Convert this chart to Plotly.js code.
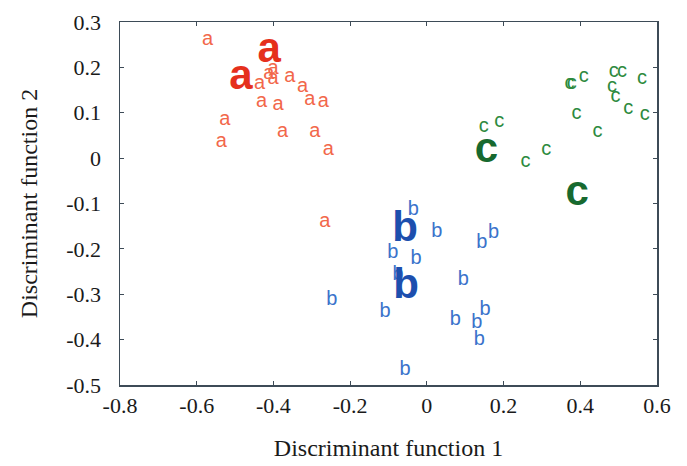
<!DOCTYPE html>
<html>
<head>
<meta charset="utf-8">
<script src="https://cdn.plot.ly/plotly-3.0.1.min.js"></script>
<style>html,body{margin:0;padding:0;background:#fff;}#chart{width:687px;height:466px;}</style>
</head>
<body>
<div id="chart"></div>
<script>
// Group a (small labels)
const aX = [-0.572, -0.436, -0.401, -0.401, -0.412, -0.357, -0.324, -0.305, -0.270, -0.431, -0.388, -0.527, -0.536, -0.376, -0.292, -0.257, -0.266];
const aY = [0.260, 0.164, 0.197, 0.175, 0.186, 0.179, 0.157, 0.128, 0.124, 0.124, 0.117, 0.084, 0.036, 0.058, 0.058, 0.017, -0.141];
// Group a (large labels)
const aBigX = [-0.411, -0.485];
const aBigY = [0.234, 0.175];
// Group b (small labels)
const bX = [-0.035, 0.026, 0.143, 0.174, -0.089, -0.028, -0.075, 0.095, -0.248, -0.109, 0.152, 0.074, 0.130, 0.137, -0.057];
const bY = [-0.115, -0.162, -0.188, -0.166, -0.210, -0.222, -0.258, -0.269, -0.313, -0.339, -0.335, -0.357, -0.364, -0.401, -0.467];
// Group b (large labels)
const bBigX = [-0.057, -0.054];
const bBigY = [-0.159, -0.285];
// Group c (small labels)
const cX = [0.148, 0.189, 0.257, 0.311, 0.372, 0.378, 0.409, 0.390, 0.445, 0.487, 0.509, 0.561, 0.483, 0.492, 0.525, 0.568];
const cY = [0.069, 0.080, -0.008, 0.017, 0.164, 0.164, 0.179, 0.098, 0.058, 0.190, 0.189, 0.175, 0.157, 0.135, 0.109, 0.095];
// Group c (large labels)
const cBigX = [0.155, 0.392];
const cBigY = [0.014, -0.080];

const xTickVals = [-0.8, -0.6, -0.4, -0.2, 0, 0.2, 0.4, 0.6];
const xTickText = ['-0.8', '-0.6', '-0.4', '-0.2', '0', '0.2', '0.4', '0.6'];
const yTickVals = [-0.5, -0.4, -0.3, -0.2, -0.1, 0, 0.1, 0.2, 0.3];
const yTickText = ['-0.5', '-0.4', '-0.3', '-0.2', '-0.1', '0', '0.1', '0.2', '0.3'];

const letterFont = 'Liberation Sans, Arial, sans-serif';
function textTrace(xs, ys, letter, size, color, weight) {
  return {
    x: xs, y: ys, mode: 'text', type: 'scatter',
    text: xs.map(() => letter),
    textposition: 'middle center',
    textfont: {family: letterFont, size: size, color: color, weight: weight},
    hoverinfo: 'skip', showlegend: false, cliponaxis: false
  };
}

const traces = [
  textTrace(aX, aY, 'a', 20, '#f2674a', 'normal'),
  textTrace(aBigX, aBigY, 'a', 42, '#e5301c', 'bold'),
  textTrace(bX, bY, 'b', 20, '#3a73cb', 'normal'),
  textTrace(bBigX, bBigY, 'b', 42, '#1d4fae', 'bold'),
  textTrace(cX, cY, 'c', 20, '#2d8a3e', 'normal'),
  textTrace(cBigX, cBigY, 'c', 42, '#17692f', 'bold')
];

const serif = 'Liberation Serif, Times New Roman, serif';
const axisFont = {family: serif, size: 22, color: '#1a1a1a'};
const common = {
  showline: true, linecolor: '#3d4b57', linewidth: 1.5, mirror: 'ticks',
  ticks: 'inside', ticklen: 4, tickwidth: 1, tickcolor: '#3d4b57',
  showgrid: false, zeroline: false, tickfont: axisFont, tickmode: 'array'
};

const layout = {
  width: 687, height: 466,
  margin: {l: 120, r: 30, t: 22, b: 81},
  paper_bgcolor: '#ffffff', plot_bgcolor: '#ffffff',
  font: {family: serif, color: '#1a1a1a'},
  xaxis: Object.assign({}, common, {
    range: [-0.8, 0.6], tickvals: xTickVals, ticktext: xTickText,
    title: {text: 'Discriminant function 1', font: {family: serif, size: 24, color: '#1a1a1a'}, standoff: 22}
  }),
  yaxis: Object.assign({}, common, {
    range: [-0.5, 0.3], tickvals: yTickVals, ticktext: yTickText,
    ticklabelstandoff: 13,
    title: {text: 'Discriminant function 2', font: {family: serif, size: 24, color: '#1a1a1a'}, standoff: 22}
  })
};

Plotly.newPlot('chart', traces, layout, {staticPlot: true, displayModeBar: false});
</script>
</body>
</html>
